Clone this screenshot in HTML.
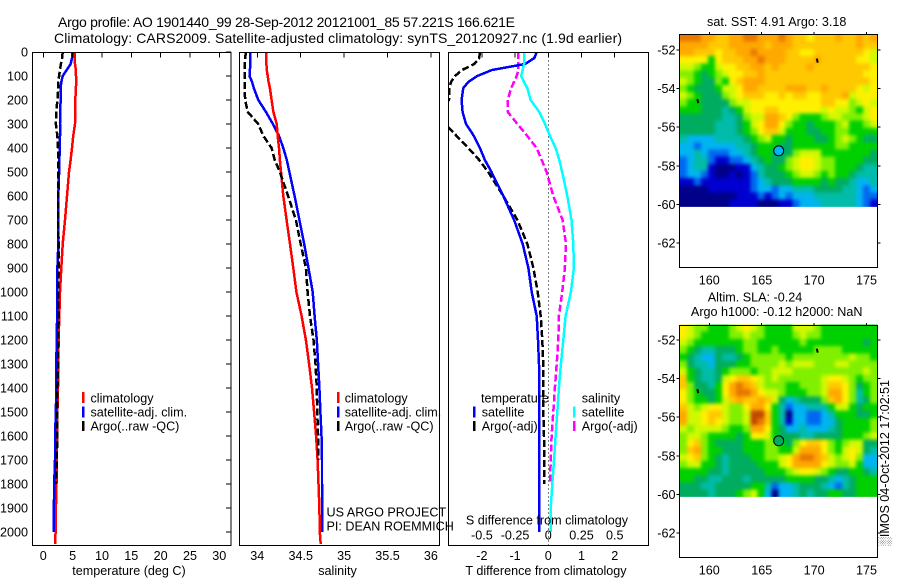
<!DOCTYPE html>
<html lang="en">
<head>
<meta charset="utf-8">
<title>Argo profile 1901440_99</title>
<style>
html,body{margin:0;padding:0;background:#fff;}
svg{display:block;}
text{font-family:"Liberation Sans",Arial,sans-serif;font-size:12.6px;fill:#000;}
</style>
</head>
<body>
<svg id="chart" xmlns="http://www.w3.org/2000/svg" width="900" height="580" viewBox="0 0 900 580">
  <defs>
    <filter id="mapSmooth" filterUnits="userSpaceOnUse" x="660" y="10" width="240" height="520" color-interpolation-filters="sRGB">
      <feGaussianBlur stdDeviation="1.8"/>
    </filter>
  </defs>
  <rect x="0" y="0" width="900" height="580" fill="#fff"/>
  <text x="58" y="27" style="font-size:14px" textLength="457" lengthAdjust="spacing">Argo profile: AO 1901440_99 28-Sep-2012 20121001_85 57.221S 166.621E</text>
  <text x="54" y="43" style="font-size:14px" textLength="568" lengthAdjust="spacing">Climatology: CARS2009. Satellite-adjusted climatology: synTS_20120927.nc (1.9d earlier)</text>

  <g id="panels"></g>
  <g id="maps"></g>

  <g>
    <rect x="82" y="392" width="2.5" height="11" fill="#f00"/>
    <text x="90.5" y="402.5">climatology</text>
    <rect x="82" y="406.5" width="2.5" height="11" fill="#00f"/>
    <text x="90.5" y="416.5">satellite-adj. clim.</text>
    <rect x="82" y="421" width="2.5" height="10" fill="#000"/>
    <text x="90.5" y="430.5">Argo(..raw -QC)</text>
  </g>
  <g>
    <rect x="337" y="392" width="2.5" height="11" fill="#f00"/>
    <text x="344.7" y="402.5">climatology</text>
    <rect x="337" y="406.5" width="2.5" height="11" fill="#00f"/>
    <text x="344.7" y="416.5">satellite-adj. clim.</text>
    <rect x="337" y="421" width="2.5" height="10" fill="#000"/>
    <text x="344.7" y="430.5">Argo(..raw -QC)</text>
  </g>
  <g>
    <text x="481" y="402.5">temperature</text>
    <rect x="473" y="406.5" width="2.5" height="11" fill="#00f"/>
    <text x="481.7" y="416.5">satellite</text>
    <rect x="473" y="421" width="2.5" height="10" fill="#000"/>
    <text x="481.7" y="430.5">Argo(-adj)</text>
    <text x="581.7" y="402.5">salinity</text>
    <rect x="573" y="406.5" width="2.5" height="11" fill="#0ff"/>
    <text x="581.7" y="416.5">satellite</text>
    <rect x="573" y="421" width="2.5" height="10" fill="#f0f"/>
    <text x="581.7" y="430.5">Argo(-adj)</text>
  </g>

  <text x="326.5" y="516.5">US ARGO PROJECT</text>
  <text x="326.5" y="530.5">PI: DEAN ROEMMICH</text>

  <text x="129" y="575" text-anchor="middle">temperature (deg C)</text>
  <text x="337.5" y="575" text-anchor="middle">salinity</text>
  <text x="546" y="575" text-anchor="middle">T difference from climatology</text>
  <text x="547" y="524.5" text-anchor="middle">S difference from climatology</text>

  <text x="776.7" y="26" text-anchor="middle">sat. SST: 4.91 Argo: 3.18</text>
  <text x="755" y="301.5" text-anchor="middle">Altim. SLA: -0.24</text>
  <text x="776.7" y="316" text-anchor="middle">Argo h1000: -0.12 h2000: NaN</text>
  <text transform="translate(889,546) rotate(-90)" textLength="166" lengthAdjust="spacing">░IMOS 04-Oct-2012 17:02:51</text>
</svg>

<script>
var depthLevels = [0,25,50,75,100,125,150,200,250,300,350,400,450,500,600,700,800,900,1000,1100,1200,1300,1400,1500,1600,1700,1800,1900,2000,2050];

var tempClimatology = [5.35,5.35,5.4,5.55,5.57,5.6,5.55,5.46,5.45,5.4,5.1,4.9,4.65,4.38,4.04,3.7,3.3,3.07,2.85,2.73,2.6,2.55,2.5,2.4,2.37,2.3,2.25,2.15,2.1,2.0];
var tempSatellite = [4.95,4.9,4.65,3.98,3.3,3.07,2.95,2.95,2.9,2.85,2.85,2.8,2.75,2.7,2.55,2.55,2.55,2.4,2.4,2.35,2.3,2.2,2.2,2.15,2.0,2.0,1.85,1.8,1.8,null];
var tempArgo = [3.3,3.2,3.0,2.85,2.7,2.55,2.55,2.4,2.2,2.15,2.4,2.5,2.5,2.5,2.5,2.55,2.6,2.6,2.55,2.6,2.55,2.55,2.4,2.4,2.37,2.3,2.2,null,null,null];

var salClimatology = [34.10,34.10,34.105,34.11,34.12,34.13,34.145,34.165,34.185,34.223,34.235,34.25,34.26,34.273,34.30,34.338,34.377,34.415,34.45,34.51,34.56,34.597,34.63,34.654,34.677,34.695,34.705,34.715,34.72,34.73];
var salSatellite = [33.92,33.92,33.92,33.915,33.91,33.94,33.96,34.012,34.10,34.18,34.25,34.30,34.34,34.37,34.43,34.485,34.54,34.59,34.638,34.66,34.685,34.70,34.715,34.727,34.74,34.745,34.745,34.745,34.745,null];
var salArgo = [33.87,33.86,33.855,33.855,33.855,33.855,33.855,33.86,33.89,34.01,34.07,34.165,34.20,34.26,34.355,34.445,34.50,34.56,34.58,34.607,34.647,34.67,34.685,34.69,34.70,34.705,null,null,null,null];

var tDiffSatellite = [-0.35,-0.42,-0.7,-1.7,-2.14,-2.41,-2.56,-2.61,-2.58,-2.48,-2.24,-2.06,-1.91,-1.71,-1.355,-1.03,-0.77,-0.6,-0.5,-0.35,-0.31,-0.28,-0.27,-0.27,-0.27,-0.27,-0.27,-0.27,-0.27,null];
var tDiffArgo = [-2.06,-2.08,-2.23,-2.6,-2.81,-2.93,-2.98,-2.99,-3.4,-3.1,-2.76,-2.41,-2.08,-1.81,-1.355,-0.93,-0.63,-0.45,-0.32,-0.23,-0.18,-0.15,-0.15,-0.15,-0.13,-0.12,-0.12,null,null,null];
var sDiffSatellite = [-0.183,-0.183,-0.183,-0.193,-0.205,-0.183,-0.158,-0.133,-0.068,-0.025,0.013,0.055,0.083,0.105,0.143,0.175,0.188,0.193,0.17,0.13,0.113,0.095,0.08,0.068,0.055,0.043,0.03,0.018,0.018,null];
var sDiffArgo = [-0.225,-0.225,-0.225,-0.225,-0.238,-0.258,-0.28,-0.305,-0.305,-0.233,-0.158,-0.088,-0.05,-0.013,0.038,0.108,0.133,0.125,0.105,0.08,0.075,0.063,0.05,0.038,0.025,0.018,0.013,null,null,null];

var depthTicks = [0,100,200,300,400,500,600,700,800,900,1000,1100,1200,1300,1400,1500,1600,1700,1800,1900,2000];
var tempTicks = [0,5,10,15,20,25,30];
var salTicks = [34,34.5,35,35.5,36];
var tDiffTicks = [-2,-1,0,1,2];
var sDiffTicks = [-0.5,-0.25,0,0.25,0.5];
var mapLonTicks = [160,165,170,175];
var mapLatTicks = [52,54,56,58,60,62];

var argoLon = 166.621;
var argoLat = 57.221;
var trackLon = [170.3, 158.9];
var trackLat = [52.55, 54.65];

/* Colour level per grid cell, north to south, west to east */
var sstRows = [
[12,12,12,11,11,10,10,11,11,12,12,11,11,11,12,11,10,10,9,10,10,10,11,10,10,11,10,11],
[11,11,11,11,10,10,10,11,11,11,11,11,10,11,11,11,10,10,10,10,10,10,10,10,10,11,10,10],
[11,11,10,10,10,9,10,10,11,11,12,11,11,11,11,10,10,9,9,10,10,10,10,10,10,10,9,8],
[9,9,9,9,6,9,10,10,10,11,11,12,11,11,11,10,10,10,10,11,10,10,10,10,10,9,9,8],
[8,8,7,6,6,8,9,9,10,10,11,11,10,11,10,10,10,10,11,10,10,10,10,10,10,10,10,9],
[7,7,6,5,6,7,8,9,9,10,10,11,10,10,10,10,10,10,10,10,10,10,10,10,10,10,9,9],
[8,7,6,5,5,7,6,9,10,11,11,11,10,10,10,10,10,10,10,10,10,10,10,10,10,10,10,9],
[7,6,5,5,5,6,8,8,9,11,11,10,10,10,10,11,11,11,10,10,11,10,10,10,10,9,8,9],
[8,7,6,5,5,5,7,8,9,10,10,10,9,9,10,9,10,10,9,9,10,10,10,11,8,9,9,9],
[7,6,6,5,5,5,5,7,8,8,9,9,9,9,9,9,9,9,9,9,10,10,9,9,7,8,9,8],
[6,6,6,5,5,5,4,5,6,8,9,9,10,10,9,9,9,9,9,9,8,9,8,8,7,6,8,9],
[5,5,5,5,5,5,4,4,5,7,8,8,11,11,10,9,7,6,6,6,7,8,8,7,7,7,8,9],
[5,5,5,5,5,4,4,4,5,6,8,9,11,11,9,7,6,6,5,6,6,6,7,8,6,6,7,8],
[5,5,5,5,5,4,4,4,5,6,7,9,10,10,8,6,6,6,5,5,6,6,7,7,6,6,6,6],
[4,3,3,3,3,4,4,4,4,5,6,7,8,6,6,5,6,6,6,5,5,6,7,8,7,6,5,5],
[3,3,2,3,3,3,3,3,4,4,5,6,6,6,5,5,6,6,6,6,6,6,7,7,6,6,6,6],
[3,3,4,3,2,2,2,3,3,4,5,6,6,5,5,5,7,8,8,8,6,6,6,6,6,6,6,5],
[2,3,4,4,2,1,1,2,2,3,4,5,6,5,5,7,8,9,9,8,7,7,6,6,6,6,5,5],
[2,3,4,4,1,0,0,0,1,1,3,4,5,5,6,7,8,9,9,8,7,7,6,6,6,5,4,4],
[2,3,3,2,1,0,0,1,0,1,2,4,5,5,5,6,7,8,8,7,6,7,6,6,5,4,4,4],
[1,1,2,1,1,1,1,1,1,1,2,3,4,5,5,5,6,6,6,6,5,6,5,5,4,3,3,4],
[0,0,0,0,1,1,1,1,1,1,2,3,3,2,3,3,4,4,4,5,5,5,5,4,4,3,2,3],
[0,0,0,0,0,0,0,0,1,1,1,2,1,2,3,2,3,3,3,4,4,4,4,4,4,3,2,2],
[0,0,0,0,0,0,0,1,1,1,1,0,0,0,1,1,2,3,3,3,4,4,4,4,4,3,2,1]
];
var slaRows = [
[9,8,7,7,6,6,6,7,8,9,8,7,6,6,6,6,8,8,8,7,6,6,6,6,6,6,6,6],
[9,8,7,6,6,6,6,7,7,8,7,7,6,6,6,6,7,8,7,7,6,6,6,6,6,6,6,6],
[8,7,6,6,6,6,6,6,6,7,7,6,6,6,6,6,6,7,6,6,6,6,6,6,6,6,5,6],
[7,6,5,4,4,5,5,5,6,7,7,6,6,7,6,6,6,6,6,7,7,7,7,6,6,6,6,6],
[6,5,4,3,3,5,4,4,5,6,7,7,7,7,7,6,7,7,7,7,7,7,7,7,8,7,7,6],
[7,5,4,4,3,5,5,5,6,6,7,7,7,7,8,7,8,8,8,7,7,7,8,8,7,7,7,7],
[8,6,5,4,4,5,6,7,7,7,6,7,7,8,8,8,7,7,7,7,7,7,7,7,7,7,8,7],
[10,6,5,4,4,5,8,9,10,10,9,8,7,8,7,7,7,7,7,7,8,9,9,8,7,6,7,7],
[10,7,5,5,4,6,9,11,12,11,10,8,7,7,7,6,6,7,7,7,8,10,10,9,7,5,6,7],
[9,7,6,5,5,6,9,11,12,12,11,9,8,8,7,6,6,6,7,7,8,11,11,9,7,4,6,7],
[9,7,6,6,5,6,8,10,11,10,10,11,10,8,5,3,4,5,5,5,7,10,11,9,7,4,5,7],
[10,8,7,8,9,9,8,7,7,9,11,11,9,6,4,2,3,3,4,4,4,6,8,8,6,5,6,6],
[11,8,8,9,10,10,8,7,7,8,13,13,10,6,4,0,3,3,2,2,3,4,6,6,6,5,5,6],
[11,8,8,9,10,9,8,7,7,8,13,12,10,6,4,1,3,3,2,2,3,3,5,6,6,6,6,7],
[8,7,8,8,8,8,7,6,6,7,11,11,9,6,5,3,3,4,3,3,3,4,5,6,6,6,6,7],
[7,8,8,7,6,6,6,6,5,6,9,9,8,6,5,5,5,4,4,5,5,5,5,6,6,6,7,8],
[7,9,10,7,6,5,5,5,5,6,6,6,7,7,6,5,7,9,10,10,9,7,6,7,8,8,5,5],
[7,10,11,7,6,6,5,5,5,6,6,6,7,7,6,6,8,11,11,11,9,7,6,8,9,8,5,4],
[8,9,10,7,6,5,4,5,5,5,6,6,7,7,8,9,11,12,12,11,10,8,7,8,9,7,3,3],
[7,8,8,6,6,5,4,5,5,5,5,6,6,6,8,9,11,11,11,11,9,8,7,7,8,6,3,3],
[6,6,6,6,5,5,4,5,5,5,5,5,6,6,6,7,8,9,9,8,7,6,5,5,6,6,5,4],
[6,6,5,5,4,4,5,5,5,4,5,5,5,5,5,6,6,6,6,5,5,4,3,4,5,6,6,6],
[5,5,5,4,4,5,5,5,5,5,6,6,4,2,3,3,4,5,5,5,4,3,2,4,5,6,6,6],
[5,5,5,5,4,5,5,5,6,7,8,6,3,0,3,3,4,5,4,5,5,6,6,5,5,6,6,6]
];

var levelColors = ['#000088','#0000d0','#0068f0','#00b4f0','#00bca8','#00ac60','#00d000','#80f000','#d0f800','#fff000','#ffc800','#ffa800','#e87800','#c04800'];

var NS = 'http://www.w3.org/2000/svg';
var svgRoot = document.getElementById('chart');
var panelsGroup = document.getElementById('panels');
var mapsGroup = document.getElementById('maps');

function mk(parent, tag, attrs, content) {
  var el = document.createElementNS(NS, tag);
  for (var k in attrs) { el.setAttribute(k, attrs[k]); }
  if (content !== undefined) { el.textContent = content; }
  parent.appendChild(el);
  return el;
}

/* shared depth axis */
function depthY(d) { return 52 + 0.24 * d; }
function tempX(v) { return 43.3 + 5.867 * v; }
function salX(v) { return 257.3 + 86.8 * (v - 34); }
function tDiffX(v) { return 548.3 + 33.2 * v; }
function sDiffX(v) { return 548.3 + 132.8 * v; }

var panelTop = 52.5, panelBottom = 545.5;

function drawProfile(group, name, values, scale, color, dashed, width) {
  var d = '';
  var started = false;
  for (var i = 0; i < depthLevels.length; i++) {
    if (values[i] === null) { continue; }
    d += (started ? 'L' : 'M') + scale(values[i]).toFixed(1) + ' ' + depthY(depthLevels[i]).toFixed(1);
    started = true;
  }
  var line = mk(group, 'path', {d: d, fill: 'none', stroke: color, 'stroke-width': width, 'shape-rendering': 'crispEdges', 'stroke-dasharray': dashed ? '7 3' : 'none'});
  
  
}

function drawPanelFrame(group, name, left, right) {
  var frame = mk(group, 'rect', {x: left, y: panelTop, width: right - left, height: panelBottom - panelTop, fill: 'none', stroke: '#000', 'stroke-width': 1, 'shape-rendering': 'crispEdges'});
  
  
}

function drawXTicks(group, ticks, scale, labelY, formatFn, tickName, drawMarks) {
  ticks.forEach(function (t) {
    var x = scale(t);
    if (drawMarks) {
      var mark = mk(group, 'line', {x1: x, x2: x, y1: panelTop, y2: panelTop + 5, stroke: '#000', 'stroke-width': 1, 'shape-rendering': 'crispEdges'});
      
      
    }
    var label = mk(group, 'text', {x: x, y: labelY, 'text-anchor': 'middle'}, formatFn(t));
    
    
  });
}

function plain(t) { return String(t); }

function addClip(id, left, right) {
  var defs = mk(svgRoot, 'defs', {});
  var cp = mk(defs, 'clipPath', {id: id});
  mk(cp, 'rect', {x: left, y: panelTop, width: right - left, height: panelBottom - panelTop});
}

/* temperature panel */
addClip('clipT', 32.5, 231);
var tempPanel = mk(panelsGroup, 'g', {});


var tempLines = mk(tempPanel, 'g', {'clip-path': 'url(#clipT)'});
drawProfile(tempLines, 'temperature-climatology-line', tempClimatology, tempX, '#f00', false, 2.5);
drawProfile(tempLines, 'temperature-satellite-line', tempSatellite, tempX, '#00f', false, 2.5);
drawProfile(tempLines, 'temperature-argo-line', tempArgo, tempX, '#000', true, 2.5);
drawPanelFrame(tempPanel, 'temperature-panel-frame', 32.5, 231);
drawXTicks(tempPanel, tempTicks, tempX, 560, plain, 'temperature', true);
depthTicks.forEach(function (d) {
  var y = depthY(d);
  var mark = mk(tempPanel, 'line', {x1: 226, x2: 231, y1: y, y2: y, stroke: '#000', 'stroke-width': 1, 'shape-rendering': 'crispEdges'});
  
  
  var label = mk(tempPanel, 'text', {x: 28, y: y + 4.5, 'text-anchor': 'end'}, String(d));
  
  
});

/* salinity panel */
addClip('clipS', 239.5, 439.5);
var salPanel = mk(panelsGroup, 'g', {});


var salLines = mk(salPanel, 'g', {'clip-path': 'url(#clipS)'});
drawProfile(salLines, 'salinity-satellite-line', salSatellite, salX, '#00f', false, 2.5);
drawProfile(salLines, 'salinity-climatology-line', salClimatology, salX, '#f00', false, 2.5);
drawProfile(salLines, 'salinity-argo-line', salArgo, salX, '#000', true, 2.5);
drawPanelFrame(salPanel, 'salinity-panel-frame', 239.5, 439.5);
drawXTicks(salPanel, salTicks, salX, 560, plain, 'salinity', true);

/* difference panel */
addClip('clipD', 448.5, 648.5);
var diffPanel = mk(panelsGroup, 'g', {});


var zeroLine = mk(diffPanel, 'line', {x1: tDiffX(0), x2: tDiffX(0), y1: panelTop, y2: panelBottom, stroke: '#000', 'stroke-width': 1, 'stroke-dasharray': '1 3', 'shape-rendering': 'crispEdges'});


var diffLines = mk(diffPanel, 'g', {'clip-path': 'url(#clipD)'});
drawProfile(diffLines, 't-diff-argo-line', tDiffArgo, tDiffX, '#000', true, 2.5);
drawProfile(diffLines, 's-diff-argo-line', sDiffArgo, sDiffX, '#f0f', true, 2.5);
drawProfile(diffLines, 't-diff-satellite-line', tDiffSatellite, tDiffX, '#00f', false, 2.5);
drawProfile(diffLines, 's-diff-satellite-line', sDiffSatellite, sDiffX, '#0ff', false, 2.5);
drawPanelFrame(diffPanel, 'difference-panel-frame', 448.5, 648.5);
drawXTicks(diffPanel, tDiffTicks, tDiffX, 560, plain, 't-difference', true);
drawXTicks(diffPanel, sDiffTicks, sDiffX, 539.5, plain, 's-difference', false);

/* map panels */
var mapLeft = 679.5, mapRight = 877.5;
var lonWest = 157.18, lonEast = 176.03;
var latNorth = 51.2, latSouth = 60.13;
var edgeBleed = 8;
function lonX(lon) { return 709.3 + (lon - 160) * 10.48; }

function drawMap(name, rows, lat52Y, top, bottom, floatLevel) {
  function latY(lat) { return lat52Y + (lat - 52) * 19.3; }
  var g = mk(mapsGroup, 'g', {});
  
  
  var clipId = name + '-clip';
  var defs = mk(svgRoot, 'defs', {});
  var cp = mk(defs, 'clipPath', {id: clipId});
  mk(cp, 'rect', {x: lonX(lonWest), y: latY(latNorth), width: lonX(lonEast) - lonX(lonWest), height: latY(latSouth) - latY(latNorth)});
  var clipped = mk(g, 'g', {'clip-path': 'url(#' + clipId + ')'});
  var heat = mk(clipped, 'g', {filter: 'url(#mapSmooth)'});
  var nRows = rows.length;
  var dLat = (latSouth - latNorth) / nRows;
  rows.forEach(function (row, r) {
    var dLon = (lonEast - lonWest) / row.length;
    row.forEach(function (value, c) {
      var x0 = lonX(lonWest + c * dLon);
      var x1 = lonX(lonWest + (c + 1) * dLon);
      var y0 = latY(latNorth + r * dLat);
      var y1 = latY(latNorth + (r + 1) * dLat);
      if (c === 0) { x0 -= edgeBleed; }
      if (c === row.length - 1) { x1 += edgeBleed; }
      if (r === 0) { y0 -= edgeBleed; }
      if (r === nRows - 1) { y1 += edgeBleed; }
      var cell = mk(heat, 'rect', {x: x0.toFixed(2), y: y0.toFixed(2), width: (x1 - x0 + 0.4).toFixed(2), height: (y1 - y0 + 0.4).toFixed(2), fill: levelColors[Math.max(0, Math.min(levelColors.length - 1, Math.round(value)))], 'shape-rendering': 'crispEdges'});
      
      
    });
  });
  var frame = mk(g, 'rect', {x: mapLeft, y: top, width: mapRight - mapLeft, height: bottom - top, fill: 'none', stroke: '#000', 'stroke-width': 1, 'shape-rendering': 'crispEdges'});
  
  
  mapLonTicks.forEach(function (lon) {
    var x = lonX(lon);
    var topTick = mk(g, 'line', {x1: x, x2: x, y1: top - 2.5, y2: top, stroke: '#000', 'shape-rendering': 'crispEdges'});
    
    
    var label = mk(g, 'text', {x: x, y: bottom + 17, 'text-anchor': 'middle'}, String(lon));
    
    
  });
  mapLatTicks.forEach(function (lat) {
    var y = latY(lat);
    var leftTick = mk(g, 'line', {x1: mapLeft - 3, x2: mapLeft, y1: y, y2: y, stroke: '#000', 'shape-rendering': 'crispEdges'});
    
    
    var rightTick = mk(g, 'line', {x1: mapRight, x2: mapRight + 3, y1: y, y2: y, stroke: '#000', 'shape-rendering': 'crispEdges'});
    
    
    var label = mk(g, 'text', {x: mapLeft - 4, y: y + 4.5, 'text-anchor': 'end'}, '-' + lat);
    
    
  });
  trackLon.forEach(function (lon, i) {
    var mark = mk(g, 'line', {x1: lonX(lon) - 0.5, x2: lonX(lon) + 0.5, y1: latY(trackLat[i]) - 2, y2: latY(trackLat[i]) + 2, stroke: '#000', 'stroke-width': 2});
    
    
  });
  var dot = mk(g, 'circle', {cx: lonX(argoLon), cy: latY(argoLat), r: 5, fill: levelColors[Math.round(floatLevel)], stroke: '#000', 'stroke-width': 1});
  
  
}

drawMap('sst-map', sstRows, 50, 34.5, 267.5, 3);
drawMap('sla-map', slaRows, 340, 325.5, 557.5, 5);
</script>
</body>
</html>
